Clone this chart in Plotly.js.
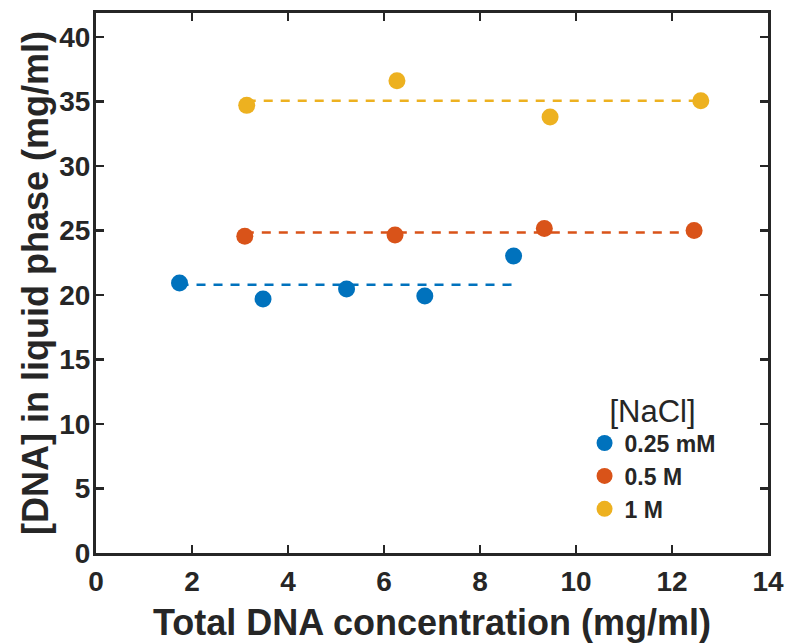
<!DOCTYPE html>
<html>
<head>
<meta charset="utf-8">
<script src="https://cdn.plot.ly/plotly-3.0.1.min.js"></script>
<style>
  html, body { margin: 0; padding: 0; background: #fff; }
  #chart { width: 785px; height: 643px; }
</style>
</head>
<body>
<div id="chart"></div>
<script>
// ---- data ----
const seriesNames = ['0.25 mM', '0.5 M', '1 M'];
const seriesColors = ['#0072BD', '#D95319', '#EDB120'];

const x025 = [1.74, 3.48, 5.22, 6.85, 8.70];
const y025 = [20.93, 19.69, 20.47, 19.92, 23.02];
const fitX025 = [1.74, 8.70];
const fitY025 = [20.8, 20.8];

const x05 = [3.10, 6.23, 9.34, 12.46];
const y05 = [24.55, 24.65, 25.15, 25.0];
const fitX05 = [3.10, 12.46];
const fitY05 = [24.85, 24.85];

const x1 = [3.14, 6.27, 9.46, 12.60];
const y1 = [34.7, 36.6, 33.8, 35.05];
const fitX1 = [3.14, 12.60];
const fitY1 = [35.05, 35.05];

const xTicks = [0, 2, 4, 6, 8, 10, 12, 14];
const yTicks = [0, 5, 10, 15, 20, 25, 30, 35, 40];

const ptsX = [x025, x05, x1];
const ptsY = [y025, y05, y1];
const fitXs = [fitX025, fitX05, fitX1];
const fitYs = [fitY025, fitY05, fitY1];

const textColor = '#262626';
const fontFam = '"Liberation Sans", Arial, Helvetica, sans-serif';

const traces = [];
// dashed fit lines (not in legend)
for (let i = 0; i < 3; i++) {
  traces.push({
    x: fitXs[i], y: fitYs[i], type: 'scatter', mode: 'lines',
    line: { color: seriesColors[i], width: 2.5, dash: '9px,8px' },
    showlegend: false, hoverinfo: 'skip'
  });
}
// data points
for (let i = 0; i < 3; i++) {
  traces.push({
    x: ptsX[i], y: ptsY[i], type: 'scatter', mode: 'markers',
    name: seriesNames[i],
    marker: { color: seriesColors[i], size: 17, line: { width: 0 } }
  });
}

const axisCommon = {
  showline: true, linewidth: 3, linecolor: textColor,
  mirror: 'ticks', ticks: 'inside', ticklen: 8, tickwidth: 2.5, tickcolor: textColor,
  showgrid: false, zeroline: false,
  tickfont: { family: fontFam, size: 28, color: textColor, weight: 'bold' }
};

const layout = {
  width: 785, height: 643,
  margin: { l: 96, r: 17, t: 13, b: 90, pad: 0 },
  paper_bgcolor: '#ffffff', plot_bgcolor: '#ffffff',
  font: { family: fontFam, color: textColor },
  showlegend: true,
  xaxis: Object.assign({}, axisCommon, {
    range: [0, 14], tickmode: 'array', tickvals: xTicks, ticktext: xTicks.map(String),
    ticklabelstandoff: 1,
    title: { text: 'Total DNA concentration (mg/ml)', standoff: 18,
             font: { family: fontFam, size: 36, color: textColor, weight: 'bold' } }
  }),
  yaxis: Object.assign({}, axisCommon, {
    range: [0, 41.86], tickmode: 'array', tickvals: yTicks, ticktext: yTicks.map(String),
    ticklabelstandoff: -3,
    title: { text: '[DNA] in liquid phase (mg/ml)', standoff: 0,
             font: { family: fontFam, size: 36, color: textColor, weight: 'bold' } }
  }),
  legend: {
    x: 0.727, y: 0.318, xanchor: 'left', yanchor: 'top',
    bgcolor: 'rgba(255,255,255,0)', borderwidth: 0,
    itemsizing: 'trace', traceorder: 'normal',
    font: { family: fontFam, size: 23, color: textColor, weight: 'bold' },
    title: { text: '[NaCl]', side: 'top center',
             font: { family: fontFam, size: 31, color: textColor, weight: 'normal' } }
  }
};

Plotly.newPlot('chart', traces, layout, { displayModeBar: false, staticPlot: true });
</script>
</body>
</html>
